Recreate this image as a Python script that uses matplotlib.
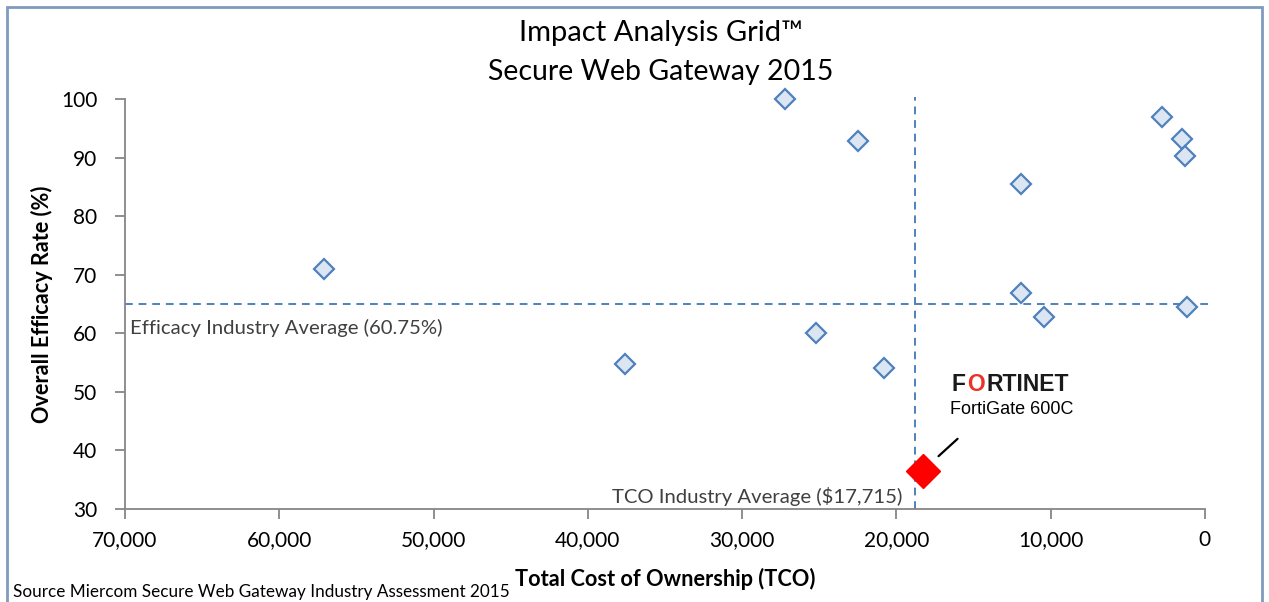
import matplotlib.pyplot as plt
from matplotlib.patches import Rectangle

# Vendor points (TCO in $, efficacy in %)
tco = [27200, 22500, 2800, 1500, 1300, 11900, 57100, 11900, 10400, 1150, 25200, 37600, 20800]
efficacy = [100.0, 92.8, 96.9, 93.2, 90.3, 85.5, 71.0, 66.9, 62.8, 64.5, 60.0, 54.8, 54.1]

# Highlighted product
fg_tco = 18300
fg_eff = 36.5

# Average reference lines (as drawn)
tco_avg_line = 18760
eff_avg_line = 65.0

xticks = [70000, 60000, 50000, 40000, 30000, 20000, 10000, 0]
yticks = [30, 40, 50, 60, 70, 80, 90, 100]

plt.rcParams['font.family'] = ['Lato', 'DejaVu Sans']

fig = plt.figure(figsize=(12.69, 6.02), dpi=100)
ax = fig.add_axes([0.0985, 0.1545, 0.851, 0.681])

blue = '#4F81BD'
ax.axvline(tco_avg_line, ymin=0, ymax=1.005, color=blue, ls=(0, (4, 3)), lw=1.4, zorder=1, clip_on=False)
ax.plot([70000, -300], [eff_avg_line, eff_avg_line], color=blue, ls=(0, (4, 3)), lw=1.4, zorder=1, clip_on=False)

ax.plot(tco, efficacy, 'D', ms=10, mfc='#DCE6F2', mec=blue, mew=1.6, ls='none', zorder=3, clip_on=False)
ax.plot([fg_tco], [fg_eff], 'D', ms=17, mfc='#FF0000', mec='#FF0000', zorder=4, clip_on=False)

ax.set_xlim(70000, 0)
ax.set_ylim(30, 100)
ax.set_xticks(xticks)
ax.set_xticklabels([f'{v:,}' for v in xticks])
ax.set_yticks(yticks)

for s in ['top', 'right']:
    ax.spines[s].set_visible(False)
for s in ['left', 'bottom']:
    ax.spines[s].set_color('#868686')
    ax.spines[s].set_linewidth(1.3)
ax.tick_params(axis='both', direction='out', length=7, width=1.3, color='#868686', labelsize=15, labelcolor='black')
ax.tick_params(axis='x', pad=8)
ax.tick_params(axis='y', pad=13)

ax.set_xlabel('Total Cost of Ownership (TCO)', fontsize=15.7, fontweight='bold', labelpad=13)
ax.set_ylabel('Overall Efficacy Rate (%)', fontsize=15.6, fontweight='bold', labelpad=6)

# annotations for the averages
ax.text(69700, 59.9, 'Efficacy Industry Average (60.75%)', fontsize=14.6,
        color='#404040', ha='left', va='baseline')
ax.text(tco_avg_line + 840, 31.0, 'TCO Industry Average ($17,715)', fontsize=14.6,
        color='#404040', ha='right', va='baseline')

# highlighted product label
ax.annotate('', xy=(fg_tco - 900, fg_eff + 2.2), xytext=(fg_tco - 2400, fg_eff + 5.8),
            arrowprops=dict(arrowstyle='-', color='black', lw=1.6))
ax.text(fg_tco - 5800, fg_eff + 10.5, 'FortiGate 600C', fontsize=13, family='Liberation Sans',
        ha='center', va='center')

# logo text: F + red O + RTINET
logo_x = fg_tco - 1900
logo_y = fg_eff + 14.8
t1 = ax.text(logo_x, logo_y, 'F', fontsize=16.5, fontweight='bold', family='Liberation Sans',
             ha='left', va='center', color='#1a1a1a')
t2 = ax.annotate('O', xy=(1, 0), xycoords=t1, xytext=(1.2, 0), textcoords='offset points',
                 fontsize=16.5, fontweight='bold', family='Liberation Sans',
                 ha='left', va='bottom', color='#EE3124')
ax.annotate('RTINET', xy=(1, 0), xycoords=t2, xytext=(1.2, 0), textcoords='offset points',
            fontsize=16.5, fontweight='bold', family='Liberation Sans',
            ha='left', va='bottom', color='#1a1a1a')

fig.text(0.521, 0.946, 'Impact Analysis Grid\u2122', fontsize=21, ha='center', va='center')
fig.text(0.521, 0.880, 'Secure Web Gateway 2015', fontsize=20.5, ha='center', va='center')

fig.text(0.010, 0.017, 'Source Miercom Secure Web Gateway Industry Assessment 2015', fontsize=12.3,
         ha='left', va='center')

fig.patches.append(Rectangle((7 / 1269, -0.02), (1262 - 7) / 1269, 1 - 7 / 602 + 0.02,
                             transform=fig.transFigure, fill=False, edgecolor='#7F9BBD', lw=2))

fig.savefig('out.png', dpi=100)
